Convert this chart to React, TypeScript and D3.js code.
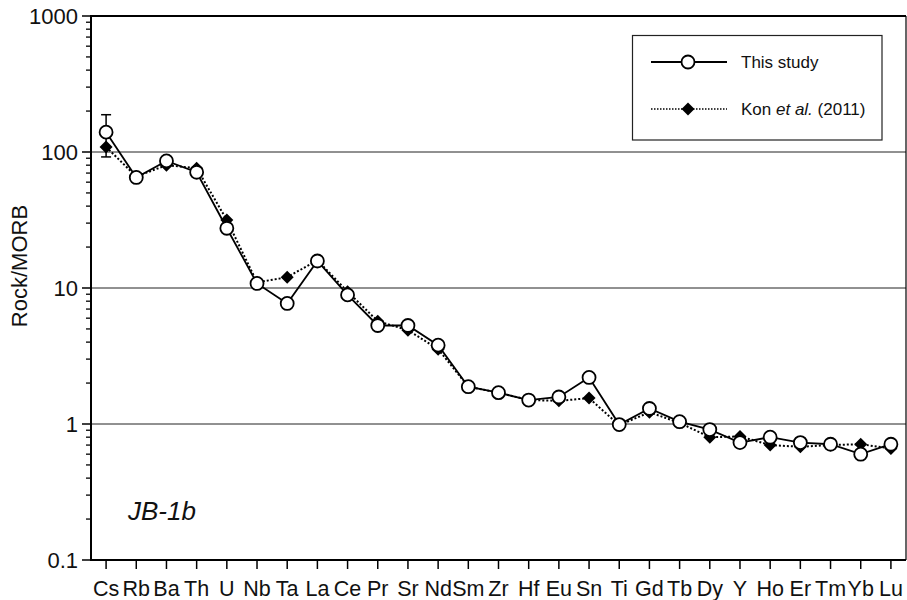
import React from "react";
import * as d3 from "d3";

const elements = ["Cs","Rb","Ba","Th","U","Nb","Ta","La","Ce","Pr","Sr","Nd","Sm","Zr","Hf","Eu","Sn","Ti","Gd","Tb","Dy","Y","Ho","Er","Tm","Yb","Lu"];
const thisStudy = [140, 65, 86, 71, 27.5, 10.8, 7.7, 15.8, 8.9, 5.3, 5.3, 3.8, 1.88, 1.7, 1.5, 1.58, 2.2, 0.99, 1.3, 1.04, 0.91, 0.73, 0.8, 0.73, 0.71, 0.6, 0.71];
const kon2011 = [109, 66, 80, 76, 31.6, 11, 12, 16, 9.4, 5.7, 4.9, 3.55, 1.88, 1.7, 1.5, 1.48, 1.55, 0.98, 1.22, 1.02, 0.8, 0.81, 0.7, 0.68, 0.7, 0.71, 0.66];
const csError = 48; // error on Cs (this study)
const yTicks = [0.1, 1, 10, 100, 1000];
const yTickLabels = ["0.1", "1", "10", "100", "1000"];
const gridValues = [1, 10, 100];

const W = 907, H = 600;
const L = 91, R = 906, T = 16, B = 560;
const FONT = "'Liberation Sans', Arial, Helvetica, sans-serif";

export default function App() {
  const x = d3.scalePoint<string>().domain(elements).range([L, R]).padding(0.5);
  const y = d3.scaleLog().domain([0.1, 1000]).range([B, T]);

  const minorTicks: number[] = [];
  for (let e = -1; e < 3; e++) {
    for (let m = 2; m <= 9; m++) minorTicks.push(m * Math.pow(10, e));
  }

  const line = d3.line<number>()
    .x((_, i) => x(elements[i]) as number)
    .y((d) => y(d));

  const diamond = (cx: number, cy: number, s: number) =>
    `M${cx},${cy - s}L${cx + s},${cy}L${cx},${cy + s}L${cx - s},${cy}Z`;

  const csX = x("Cs") as number;

  return (
    <svg width={W} height={H} style={{ position: "absolute", left: 0, top: 0, background: "#fff" }} fontFamily={FONT}>
      <rect x={0} y={0} width={W} height={H} fill="#fff" />
      {/* gridlines */}
      {gridValues.map((v) => (
        <line key={v} x1={L} x2={R} y1={y(v)} y2={y(v)} stroke="#222" strokeWidth={1} />
      ))}
      {/* frame */}
      <line x1={L} x2={R} y1={T} y2={T} stroke="#000" strokeWidth={2} />
      <line x1={R} x2={R} y1={T} y2={B} stroke="#000" strokeWidth={1.2} />
      <line x1={L} x2={R} y1={B} y2={B} stroke="#000" strokeWidth={2} />
      <line x1={L} x2={L} y1={T - 1} y2={B + 1} stroke="#000" strokeWidth={2} />
      {/* y ticks */}
      {yTicks.map((v, i) => (
        <g key={v}>
          <line x1={L - 9} x2={L} y1={y(v)} y2={y(v)} stroke="#000" strokeWidth={1.5} />
          <text x={L - 13} y={y(v)} dy="0.36em" textAnchor="end" fontSize={22} fill="#111">{yTickLabels[i]}</text>
        </g>
      ))}
      {minorTicks.map((v) => (
        <line key={v} x1={L - 5} x2={L} y1={y(v)} y2={y(v)} stroke="#000" strokeWidth={1.3} />
      ))}
      {/* x ticks */}
      {elements.map((e) => (
        <g key={e}>
          <line x1={x(e)} x2={x(e)} y1={B} y2={B + 9} stroke="#000" strokeWidth={1.5} />
          <text x={x(e)} y={B + 36} textAnchor="middle" fontSize={21.5} fill="#111">{e}</text>
        </g>
      ))}
      {/* y label */}
      <text transform={`translate(27,${(T + B) / 2 - 22}) rotate(-90)`} textAnchor="middle" fontSize={22} fill="#111">Rock/MORB</text>
      {/* sample name */}
      <text x={128} y={520} fontSize={26} fontStyle="italic" fill="#111">JB-1b</text>

      {/* Kon et al. series */}
      <path d={line(kon2011) || ""} fill="none" stroke="#000" strokeWidth={2} strokeDasharray="2,2" />
      {kon2011.map((v, i) => (
        <path key={i} d={diamond(x(elements[i]) as number, y(v), 6.5)} fill="#000" />
      ))}

      {/* error bar */}
      <line x1={csX} x2={csX} y1={y(thisStudy[0] + csError)} y2={y(thisStudy[0] - csError)} stroke="#000" strokeWidth={1.5} />
      <line x1={csX - 5} x2={csX + 5} y1={y(thisStudy[0] + csError)} y2={y(thisStudy[0] + csError)} stroke="#000" strokeWidth={1.5} />
      <line x1={csX - 5} x2={csX + 5} y1={y(thisStudy[0] - csError)} y2={y(thisStudy[0] - csError)} stroke="#000" strokeWidth={1.5} />

      {/* This study series */}
      <path d={line(thisStudy) || ""} fill="none" stroke="#000" strokeWidth={1.8} />
      {thisStudy.map((v, i) => (
        <circle key={i} cx={x(elements[i])} cy={y(v)} r={6.5} fill="#fff" stroke="#000" strokeWidth={1.8} />
      ))}

      {/* legend */}
      <rect x={632.5} y={35.5} width={249.5} height={104.5} fill="#fff" stroke="#222" strokeWidth={1.2} />
      <line x1={651} x2={727} y1={62} y2={62} stroke="#000" strokeWidth={1.8} />
      <circle cx={688} cy={62} r={6.5} fill="#fff" stroke="#000" strokeWidth={1.8} />
      <text x={741} y={62} dy="0.36em" fontSize={17} fill="#111">This study</text>
      <line x1={651} x2={727} y1={109} y2={109} stroke="#000" strokeWidth={1.5} strokeDasharray="1.5,1.5" />
      <path d={diamond(688, 109, 6.5)} fill="#000" />
      <text x={741} y={109} dy="0.36em" fontSize={17} fill="#111">
        Kon <tspan fontStyle="italic">et al.</tspan> (2011)
      </text>
    </svg>
  );
}
